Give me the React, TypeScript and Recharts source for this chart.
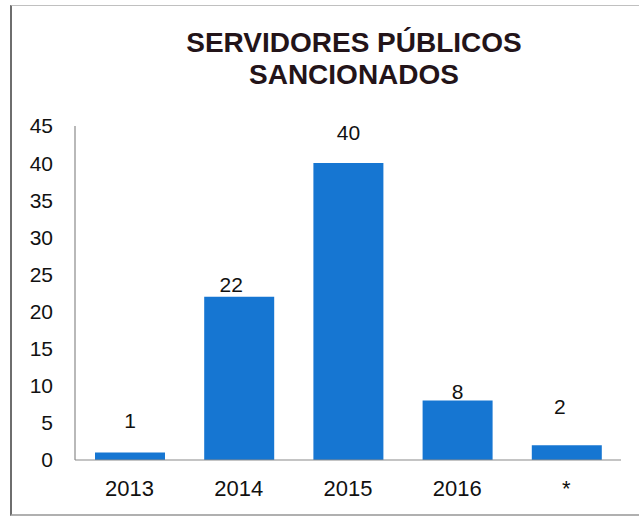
import { BarChart, Bar, XAxis, YAxis, LabelList } from 'recharts';

const YEARS = ['2013', '2014', '2015', '2016', '*'];
const SANCIONADOS = [1, 22, 40, 8, 2];
const Y_TICKS = [0, 5, 10, 15, 20, 25, 30, 35, 40, 45];

const BLUE = '#1676d2';
const AXIS = '#8a8a8a';
const INK = '#111111';
const TITLE = '#231419';
const FONT = '"Liberation Sans", Arial, sans-serif';

// label placement as in the original (distance above bar top, horizontal nudge)
const LABEL_LIFT = [32, 12, 31, 9, 39];
const LABEL_NUDGE = [0, -8, 0, 0, -7];

const data = YEARS.map((year, i) => ({ year, value: SANCIONADOS[i] }));

function ValueLabel(props: any) {
  const { x, y, width, value, index } = props;
  return (
    <text
      x={x + width / 2 + LABEL_NUDGE[index]}
      y={y - LABEL_LIFT[index]}
      dy="0.355em"
      textAnchor="middle"
      fontSize={21}
      fontFamily={FONT}
      fill={INK}
    >
      {value}
    </text>
  );
}

export default function App() {
  return (
    <div
      style={{
        position: 'fixed',
        left: 0,
        top: 0,
        width: 639,
        height: 517,
        background: '#fff',
        overflow: 'hidden',
      }}
    >
      <div
        style={{
          position: 'absolute',
          left: 10,
          top: 5,
          width: 640,
          height: 508,
          borderLeft: '2px solid #6e6e6e',
          borderTop: '1px solid #c0c0c0',
          borderBottom: '2px solid #b0b0b0',
        }}
      />
      <div
        style={{
          position: 'absolute',
          left: 154,
          top: 27,
          width: 400,
          textAlign: 'center',
          fontFamily: FONT,
          fontWeight: 'bold',
          fontSize: 28,
          lineHeight: '32px',
          color: TITLE,
        }}
      >
        SERVIDORES PÚBLICOS
        <br />
        SANCIONADOS
      </div>
      <div style={{ position: 'absolute', left: 0, top: 0 }}>
        <BarChart
          width={639}
          height={517}
          data={data}
          margin={{ top: 126, right: 18, bottom: 0, left: 0 }}
        >
          <XAxis
            dataKey="year"
            height={57}
            tickLine={false}
            tickSize={0}
            tickMargin={20}
            axisLine={{ stroke: AXIS, strokeWidth: 1.2 }}
            tick={{ fontSize: 22, fontFamily: FONT, fill: INK }}
          />
          <YAxis
            width={75}
            domain={[0, 45]}
            ticks={Y_TICKS}
            interval={0}
            tickLine={false}
            tickSize={0}
            tickMargin={22}
            axisLine={{ stroke: AXIS, strokeWidth: 1.2 }}
            tick={{ fontSize: 21, fontFamily: FONT, fill: INK }}
          />
          <Bar dataKey="value" fill={BLUE} barSize={70} isAnimationActive={false}>
            <LabelList dataKey="value" content={ValueLabel} />
          </Bar>
        </BarChart>
      </div>
    </div>
  );
}
